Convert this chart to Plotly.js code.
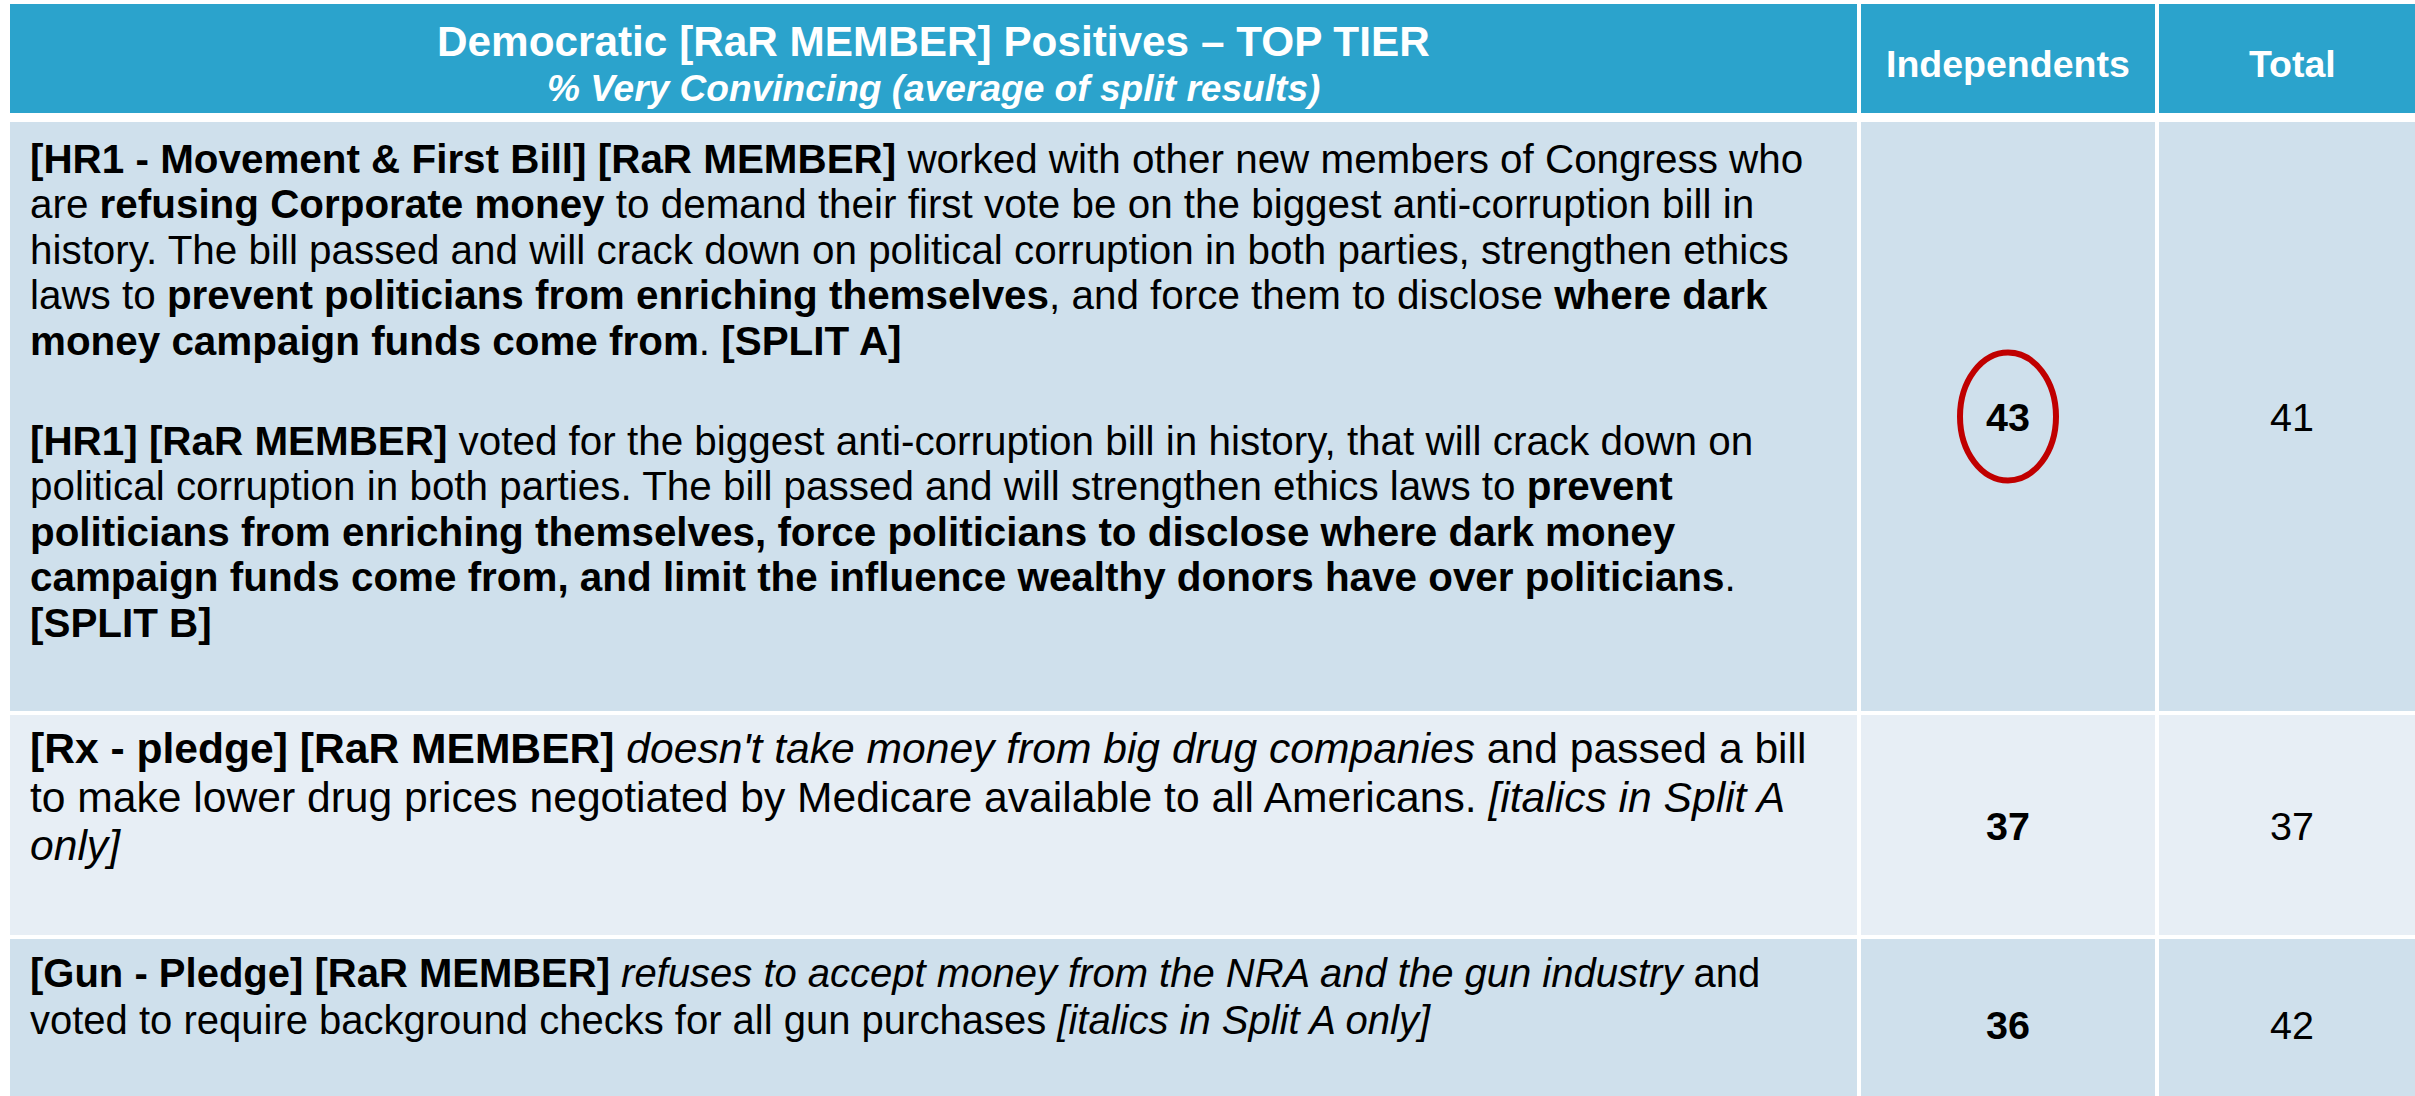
<!DOCTYPE html>
<html>
<head>
<meta charset="utf-8">
<script src="https://cdn.plot.ly/plotly-3.0.1.min.js"></script>
<style>html,body{margin:0;padding:0;background:#fff;overflow:hidden}</style>
</head>
<body>
<div id="chart" style="width:2415px;height:1096px"></div>
<script>
// ---------- DATA ----------
const titleText = "Democratic [RaR MEMBER] Positives – TOP TIER";
const subtitleText = "% Very Convincing (average of split results)";
const columnHeaders = ["Independents", "Total"];
const independents = [43, 37, 36];
const total = [41, 37, 42];
const highlightRow = 0; // circled value in Independents column

const statementRow1 = [
  "<b>[HR1 - Movement &amp; First Bill] [RaR MEMBER]</b> worked with other new members of Congress who",
  "are <b>refusing Corporate money</b> to demand their first vote be on the biggest anti-corruption bill in",
  "history. The bill passed and will crack down on political corruption in both parties, strengthen ethics",
  "laws to <b>prevent politicians from enriching themselves</b>, and force them to disclose <b>where dark</b>",
  "<b>money campaign funds come from</b>. <b>[SPLIT A]</b>",
  "",
  "<b>[HR1] [RaR MEMBER]</b> voted for the biggest anti-corruption bill in history, that will crack down on",
  "political corruption in both parties. The bill passed and will strengthen ethics laws to <b>prevent</b>",
  "<b>politicians from enriching themselves, force politicians to disclose where dark money</b>",
  "<b>campaign funds come from, and limit the influence wealthy donors have over politicians</b>.",
  "<b>[SPLIT B]</b>"
];
const statementRow2 = [
  "<b>[Rx - pledge] [RaR MEMBER]</b> <i>doesn't take money from big drug companies</i> and passed a bill",
  "to make lower drug prices negotiated by Medicare available to all Americans. <i>[italics in Split A</i>",
  "<i>only]</i>"
];
const statementRow3 = [
  "<b>[Gun - Pledge] [RaR MEMBER]</b> <i>refuses to accept money from the NRA and the gun industry</i> and",
  "voted to require background checks for all gun purchases <i>[italics in Split A only]</i>"
];
const statements = [statementRow1, statementRow2, statementRow3];

// ---------- LAYOUT / STYLE ----------
const W = 2415, H = 1096;
const FONT = "Liberation Sans, Arial, Helvetica, sans-serif";
const headerColor = "#2BA3CC";
const rowColors = ["#CFE0EC", "#E7EEF5", "#CFE0EC"];
const cols = [[10, 1857], [1861, 2155], [2159, 2425]];
const headerY = [4, 113];
const rowsY = [[122, 711], [715, 935], [939, 1110]];
const rowFont = [40.4, 42.6, 40.0];
const rowStep = [45.4, 48.5, 47.7];
const paraGap = 55;
const firstBaselineOffset = [51, 48, 47.5];
const textLeft = 29;
const midShift = 0.3465; // baseline -> text-box middle, in em
const numShift = 5;
const numSize = 39.5;

const shapes = [];
const annotations = [];

// header cells
cols.forEach(c => shapes.push({type: "rect", xref: "x", yref: "y", x0: c[0], x1: c[1], y0: headerY[0], y1: headerY[1],
  fillcolor: headerColor, line: {width: 0}, layer: "below"}));
// body cells
rowsY.forEach((r, i) => cols.forEach(c => shapes.push({type: "rect", xref: "x", yref: "y", x0: c[0], x1: c[1], y0: r[0], y1: r[1],
  fillcolor: rowColors[i], line: {width: 0}, layer: "below"})));

const colMid = i => (cols[i][0] + cols[i][1]) / 2;
const rowMid = i => (rowsY[i][0] + rowsY[i][1]) / 2;

// header texts
annotations.push({xref: "x", yref: "y", x: colMid(0), y: 56 - midShift * 42.3, xanchor: "center", yanchor: "middle", showarrow: false,
  text: "<b>" + titleText + "</b>", font: {family: FONT, size: 42.3, color: "#ffffff"}});
annotations.push({xref: "x", yref: "y", x: colMid(0), y: 100.5 - midShift * 37.1, xanchor: "center", yanchor: "middle", showarrow: false,
  text: "<b><i>" + subtitleText + "</i></b>", font: {family: FONT, size: 37.1, color: "#ffffff"}});
columnHeaders.forEach((h, i) => annotations.push({xref: "x", yref: "y", x: colMid(i + 1), y: 76.5 - midShift * 37.5,
  xanchor: "center", yanchor: "middle", showarrow: false, text: "<b>" + h + "</b>", font: {family: FONT, size: 37.5, color: "#ffffff"}}));

// statement lines
statements.forEach((lines, r) => {
  let base = rowsY[r][0] + firstBaselineOffset[r];
  lines.forEach(ln => {
    if (ln === "") { base += paraGap; return; }
    annotations.push({xref: "x", yref: "y", x: textLeft, y: base - midShift * rowFont[r], xanchor: "left", yanchor: "middle",
      showarrow: false, borderpad: 0, text: ln, font: {family: FONT, size: rowFont[r], color: "#000000"}});
    base += rowStep[r];
  });
});

// highlight ellipse around the circled value
const ex = colMid(1), ey = rowMid(highlightRow);
shapes.push({type: "circle", xref: "x", yref: "y", x0: ex - 48, x1: ex + 48, y0: ey - 64, y1: ey + 64,
  line: {color: "#C00000", width: 6}, fillcolor: "rgba(0,0,0,0)", layer: "above"});

const rowCenters = rowsY.map((r, i) => rowMid(i) + numShift);
const traces = [
  {type: "scatter", mode: "text", x: independents.map(() => colMid(1)), y: rowCenters, text: independents.map(String),
   texttemplate: "<b>%{text}</b>", textposition: "middle center", textfont: {family: FONT, size: numSize, color: "#000"},
   hoverinfo: "skip", showlegend: false, cliponaxis: false},
  {type: "scatter", mode: "text", x: total.map(() => colMid(2)), y: rowCenters, text: total.map(String),
   textposition: "middle center", textfont: {family: FONT, size: numSize, color: "#000"},
   hoverinfo: "skip", showlegend: false, cliponaxis: false}
];

const layout = {
  width: W, height: H, margin: {l: 0, r: 0, t: 0, b: 0, pad: 0},
  paper_bgcolor: "#ffffff", plot_bgcolor: "#ffffff",
  xaxis: {range: [0, W], visible: false, fixedrange: true},
  yaxis: {range: [H, 0], visible: false, fixedrange: true},
  shapes: shapes, annotations: annotations, showlegend: false
};
Plotly.newPlot("chart", traces, layout, {staticPlot: true, displayModeBar: false});
</script>
</body>
</html>
